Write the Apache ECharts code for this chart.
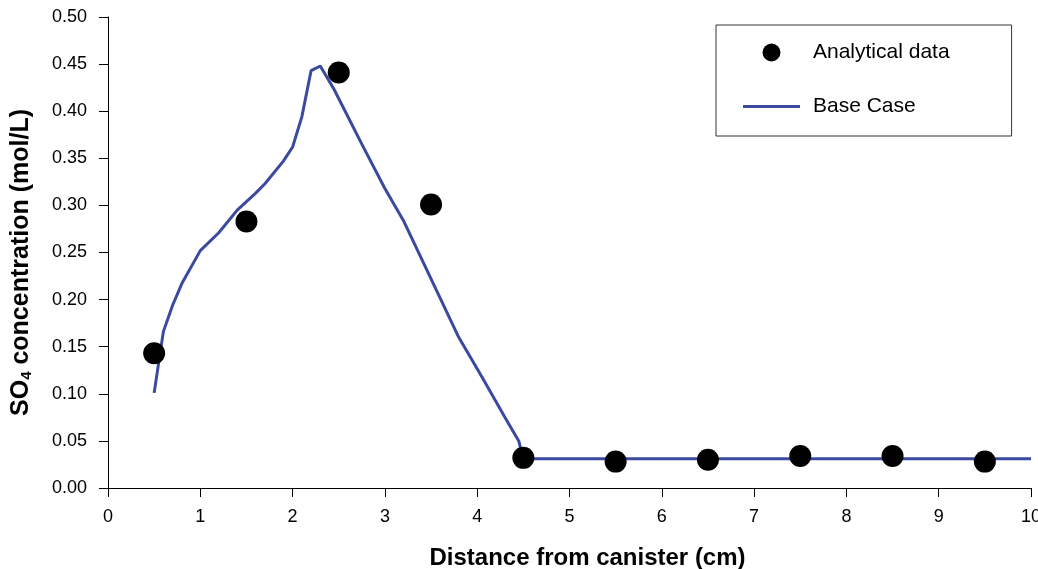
<!DOCTYPE html>
<html>
<head>
<meta charset="utf-8">
<script src="https://cdn.jsdelivr.net/npm/echarts@6/dist/echarts.min.js"></script>
<style>
  html, body { margin: 0; padding: 0; background: #fff; }
  #chart { width: 1038px; height: 569px; }
</style>
</head>
<body>
<div id="chart"></div>
<script>
// measured samples (distance cm, SO4 mol/L)
const analyticalX = [0.5, 1.5, 2.5, 3.5, 4.5, 5.5, 6.5, 7.5, 8.5, 9.5];
const analyticalY = [0.143, 0.283, 0.441, 0.301, 0.032, 0.028, 0.030, 0.034, 0.034, 0.028];

// model curve
const baseX = [0.5, 0.6, 0.7, 0.8, 1.0, 1.2, 1.4, 1.6, 1.7, 1.9, 2.0, 2.1, 2.2, 2.3, 2.45, 2.75,
               3.0, 3.2, 3.5, 3.8, 4.05, 4.3, 4.45, 4.5, 5.0, 6.0, 7.0, 8.0, 9.0, 10.0];
const baseY = [0.101, 0.166, 0.194, 0.217, 0.252, 0.271, 0.295, 0.313, 0.323, 0.347, 0.362, 0.394, 0.443, 0.448, 0.423, 0.365,
               0.318, 0.284, 0.222, 0.160, 0.118, 0.075, 0.050, 0.031, 0.031, 0.031, 0.031, 0.031, 0.031, 0.031];

const font = 'Liberation Sans, Arial, sans-serif';
const lineColor = '#3b4aa0';

const chart = echarts.init(document.getElementById('chart'));

const option = {
    animation: false,
    backgroundColor: '#fff',
    grid: {
        left: 108,
        right: 7,
        top: 17,
        bottom: 81,
        containLabel: false,
        outerBoundsMode: 'none'
    },
    legend: {
        orient: 'vertical',
        left: 716,
        top: 25,
        padding: [17, 62, 19, 27],
        itemGap: 33,
        itemWidth: 57,
        itemHeight: 18,
        borderColor: '#333',
        borderWidth: 1,
        textStyle: { fontFamily: font, fontSize: 21, color: '#000', padding: [0, 0, 0, 8] },
        data: [
            { name: 'Analytical data', icon: 'circle' },
            { name: 'Base Case', icon: 'path://M0,0H60V3H0Z' }
        ]
    },
    xAxis: {
        type: 'value',
        min: 0,
        max: 10,
        interval: 1,
        name: 'Distance from canister (cm)',
        nameLocation: 'middle',
        nameGap: 58,
        nameTextStyle: {
            fontFamily: font, fontSize: 24, fontWeight: 'bold', color: '#000',
            padding: [0, 0, 0, 36]
        },
        axisLine: { lineStyle: { color: '#000', width: 1 } },
        axisTick: { show: true, length: 9, lineStyle: { color: '#000' } },
        axisLabel: { fontFamily: font, fontSize: 18, color: '#000', margin: 20 },
        splitLine: { show: false }
    },
    yAxis: {
        type: 'value',
        min: 0,
        max: 0.5,
        interval: 0.05,
        name: 'SO{sub|4} concentration (mol/L)',
        nameLocation: 'middle',
        nameGap: 74,
        nameTextStyle: {
            fontFamily: font, fontSize: 25, fontWeight: 'bold', color: '#000',
            padding: [0, 20, 0, 0],
            rich: {
                sub: { fontFamily: font, fontSize: 15, fontWeight: 'bold', color: '#000', padding: [11, 0, 0, 0] }
            }
        },
        axisLine: { show: true, lineStyle: { color: '#000', width: 1 } },
        axisTick: { show: true, length: 9, lineStyle: { color: '#000' } },
        axisLabel: {
            fontFamily: font, fontSize: 18, color: '#000', margin: 21,
            formatter: (v) => v.toFixed(2)
        },
        splitLine: { show: false }
    },
    series: [
        {
            name: 'Analytical data',
            type: 'scatter',
            symbol: 'circle',
            symbolSize: 22,
            itemStyle: { color: '#000', opacity: 1 },
            z: 3,
            data: analyticalX.map((x, i) => [x, analyticalY[i]])
        },
        {
            name: 'Base Case',
            type: 'line',
            symbol: 'none',
            showSymbol: false,
            lineStyle: { color: lineColor, width: 3 },
            itemStyle: { color: lineColor },
            z: 2,
            data: baseX.map((x, i) => [x, baseY[i]])
        }
    ]
};

chart.setOption(option);
</script>
</body>
</html>
